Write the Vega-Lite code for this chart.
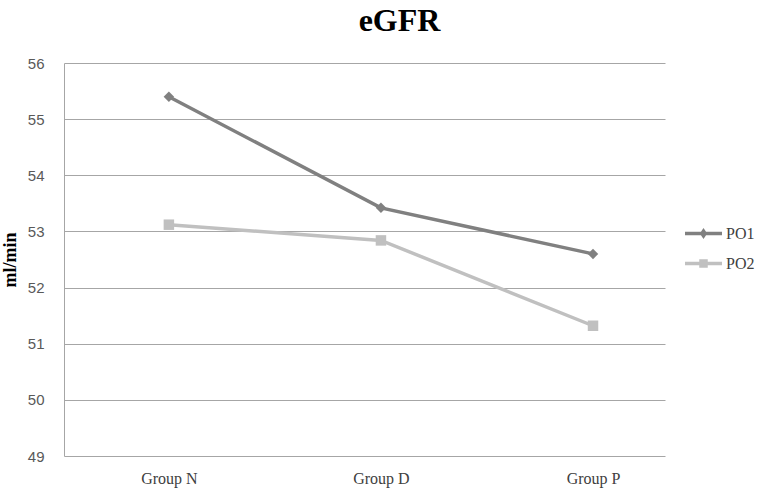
{
  "$schema": "https://vega.github.io/schema/vega-lite/v6.json",
  "width": 601,
  "height": 393,
  "autosize": {"type": "none"},
  "padding": {"left": 64, "top": 63, "right": 106, "bottom": 45},
  "background": "white",
  "title": {
    "text": "eGFR",
    "font": "Liberation Serif",
    "fontSize": 32,
    "fontWeight": "bold",
    "color": "#000000",
    "anchor": "middle",
    "dx": 35,
    "offset": 18
  },
  "data": {
    "values": [
      {"group": "Group N", "series": "PO1", "value": 55.4},
      {"group": "Group D", "series": "PO1", "value": 53.42},
      {"group": "Group P", "series": "PO1", "value": 52.6},
      {"group": "Group N", "series": "PO2", "value": 53.12},
      {"group": "Group D", "series": "PO2", "value": 52.84},
      {"group": "Group P", "series": "PO2", "value": 51.32}
    ]
  },
  "encoding": {
    "x": {
      "field": "group",
      "type": "nominal",
      "sort": ["Group N", "Group D", "Group P"],
      "scale": {"type": "point", "padding": 0.417, "align": 0.593},
      "axis": {
        "title": null,
        "labelAngle": 0,
        "labelFont": "Liberation Serif",
        "labelFontSize": 16,
        "labelColor": "#404040",
        "labelPadding": 14,
        "ticks": false,
        "domain": false,
        "grid": false
      }
    },
    "y": {
      "field": "value",
      "type": "quantitative",
      "scale": {"domain": [49, 56], "nice": false, "zero": false},
      "axis": {
        "title": "ml/min",
        "titleFont": "Liberation Serif",
        "titleFontSize": 18,
        "titleFontWeight": "bold",
        "titleColor": "#000000",
        "titlePadding": 8,
        "values": [49, 50, 51, 52, 53, 54, 55, 56],
        "labelFont": "Liberation Sans",
        "labelFontSize": 15,
        "labelColor": "#595959",
        "labelPadding": 20,
        "ticks": false,
        "domain": true,
        "domainColor": "#a6a6a6",
        "grid": true,
        "gridColor": "#a6a6a6",
        "gridWidth": 1
      }
    }
  },
  "layer": [
    {
      "mark": {"type": "line", "strokeWidth": 3.5},
      "encoding": {
        "color": {
          "field": "series",
          "type": "nominal",
          "scale": {"domain": ["PO1", "PO2"], "range": ["#808080", "#c0c0c0"]},
          "legend": {
            "title": null,
            "orient": "none",
            "legendX": 621,
            "legendY": 152,
            "padding": 0,
            "labelFont": "Liberation Serif",
            "labelFontSize": 16,
            "labelColor": "#404040",
            "labelOffset": 4,
            "rowPadding": 3,
            "symbolSize": 1369,
            "symbolStrokeWidth": 0,
            "symbolType": "M-1,-0.1H1V0.1H-1Z",
            "encoding": {
              "symbols": {
                "shape": {"value": {"expr": "datum.value === 'PO1' ? 'M-1,-0.1H1V0.1H-1Z M-0.2,0L0,-0.3L0.2,0L0,0.3Z' : 'M-1,-0.1H1V0.1H-1Z M-0.23,-0.23H0.23V0.23H-0.23Z'"}},
                "fill": {"value": {"expr": "datum.value === 'PO1' ? '#808080' : '#c0c0c0'"}},
                "fillOpacity": {"value": 1},
                "strokeWidth": {"value": 0},
                "opacity": {"value": 1}
              }
            }
          }
        }
      }
    },
    {
      "transform": [{"filter": "datum.series === 'PO1'"}],
      "mark": {"type": "point", "shape": "diamond", "filled": true, "opacity": 1, "size": 110, "color": "#808080"}
    },
    {
      "transform": [{"filter": "datum.series === 'PO2'"}],
      "mark": {"type": "point", "shape": "square", "filled": true, "opacity": 1, "size": 110, "color": "#c0c0c0"}
    }
  ],
  "config": {"view": {"stroke": null}}
}
